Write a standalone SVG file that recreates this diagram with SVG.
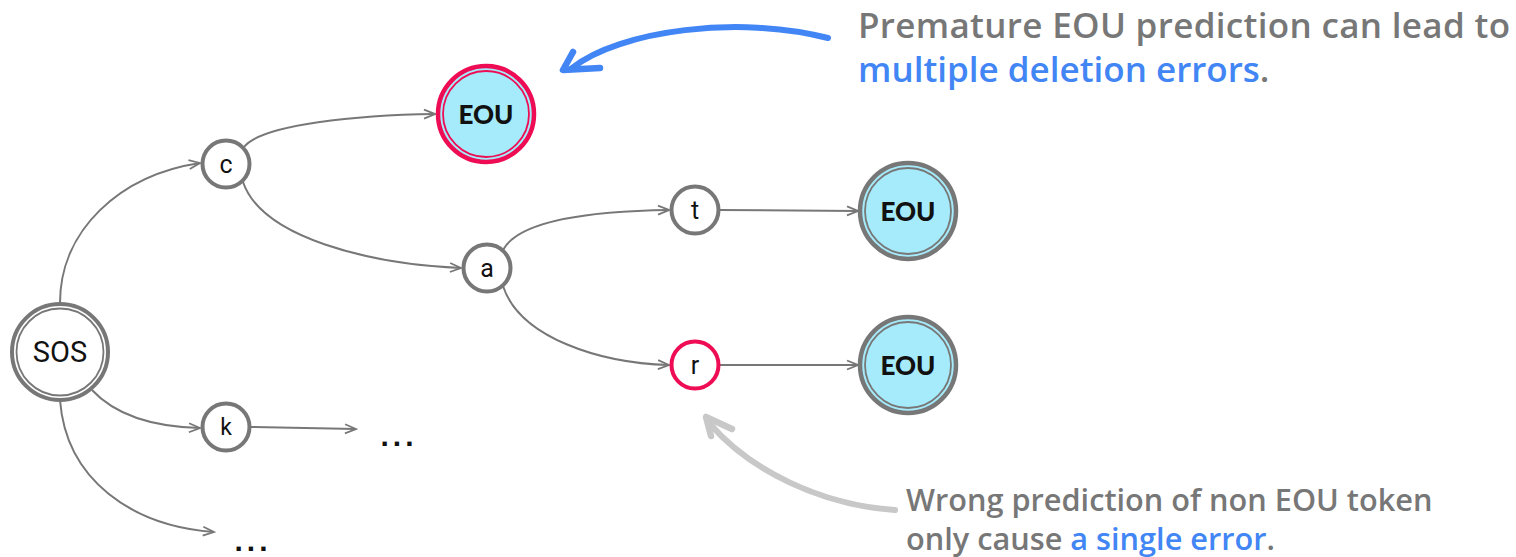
<svg xmlns="http://www.w3.org/2000/svg" width="1516" height="557" viewBox="0 0 1516 557">
<defs>
<marker id="arr" markerWidth="14" markerHeight="12" refX="12" refY="6" orient="auto" markerUnits="userSpaceOnUse">
<path d="M1,1.5 L12,6 L1,10.5" fill="none" stroke="#777" stroke-width="1.8"/>
</marker>
</defs>
<style>
.edge{fill:none;stroke:#777;stroke-width:2;marker-end:url(#arr)}
.node{fill:#fff;stroke:#777;stroke-width:4}
.lbl{font-family:Roboto,"Liberation Sans",sans-serif;font-size:25px;fill:#111;text-anchor:middle;dominant-baseline:central}
.big{font-size:29px}
.small{font-size:23px}
.eou{fill:#a6ebfb;stroke:#777;stroke-width:4.5}
.eouin{fill:none;stroke:#777;stroke-width:1.8}
.red{stroke:#ee0d54}
.eoulbl{font-family:Lato,"Liberation Sans",sans-serif;font-weight:900;font-size:26px;fill:#111;text-anchor:middle;dominant-baseline:central}
.note{font-family:"Open Sans","Liberation Sans",sans-serif;font-weight:600;fill:#777}
.blue{fill:#4285f4}
.dots{font-family:"Liberation Sans",sans-serif;font-size:30px;font-weight:bold;fill:#111;text-anchor:middle;letter-spacing:4px}
</style>
<rect width="1516" height="557" fill="#fff"/>
<g id="connectors">
<path class="edge" d="M60,303 C60,230 120,175 200,163"/>
<path class="edge" d="M244,147 C262,124 360,115 435,114"/>
<path class="edge" d="M243,182 C262,238 370,264 461,268"/>
<path class="edge" d="M503,250 C520,218 600,211 669,210"/>
<path class="edge" d="M503,286 C520,338 600,363 669,365"/>
<path class="edge" d="M719,210 L858,211"/>
<path class="edge" d="M719,365 L858,365"/>
<path class="edge" d="M92,390 C118,418 160,427 200,428"/>
<path class="edge" d="M250,427 L356,429"/>
<path class="edge" d="M60,400 C66,480 132,526 214,532"/>
</g>
<g id="node-sos">
<circle class="node" cx="60" cy="352" r="48"/>
<circle cx="60" cy="352" r="43.5" fill="none" stroke="#777" stroke-width="1.8"/>
<text class="lbl big" x="60" y="352">SOS</text>
</g>
<g id="node-c">
<circle class="node" cx="226" cy="164" r="23.5"/>
<text class="lbl" x="226" y="164">c</text>
</g>
<g id="node-k">
<circle class="node" cx="226" cy="427" r="23.5"/>
<text class="lbl small" x="226" y="427">k</text>
</g>
<g id="node-a">
<circle class="node" cx="487" cy="268" r="23.5"/>
<text class="lbl" x="487" y="268">a</text>
</g>
<g id="node-t">
<circle class="node" cx="695" cy="210" r="23.5"/>
<text class="lbl" x="695" y="210">t</text>
</g>
<g id="node-r">
<circle class="node red" cx="695" cy="365" r="23.5"/>
<text class="lbl" x="695" y="365">r</text>
</g>
<g id="node-eou-top">
<circle class="eou red" cx="486" cy="114" r="48"/>
<circle class="eouin red" cx="486" cy="114" r="43"/>
<text class="eoulbl" x="486" y="114">EOU</text>
</g>
<g id="node-eou-t">
<circle class="eou" cx="908" cy="211" r="48"/>
<circle class="eouin" cx="908" cy="211" r="43"/>
<text class="eoulbl" x="908" y="211">EOU</text>
</g>
<g id="node-eou-r">
<circle class="eou" cx="908" cy="365" r="48"/>
<circle class="eouin" cx="908" cy="365" r="43"/>
<text class="eoulbl" x="908" y="365">EOU</text>
</g>
<g id="ellipsis">
<text class="dots" x="399" y="446">...</text>
<text class="dots" x="253" y="551">...</text>
</g>
<g id="annotation-top">
<path d="M828,38 C740,15 620,30 572,68" fill="none" stroke="#4285f4" stroke-width="6" stroke-linecap="round"/>
<path d="M573,52 L563,70 L600,68" fill="none" stroke="#4285f4" stroke-width="6.5" stroke-linecap="round" stroke-linejoin="round"/>
<text class="note" x="858" y="38" font-size="35" textLength="652">Premature EOU prediction can lead to</text>
<text class="note" x="858" y="82" font-size="35"><tspan class="blue">multiple deletion errors</tspan>.</text>
</g>
<g id="annotation-bottom">
<path d="M895,510 C820,505 750,470 710,424" fill="none" stroke="#c8c8c8" stroke-width="6" stroke-linecap="round"/>
<path d="M732,429 L706,417 L711,436" fill="none" stroke="#c8c8c8" stroke-width="6.5" stroke-linecap="round" stroke-linejoin="round"/>
<text class="note" x="906" y="511" font-size="30.7">Wrong prediction of non EOU token</text>
<text class="note" x="906" y="550" font-size="30.7">only cause <tspan class="blue">a single error</tspan>.</text>
</g>
</svg>
